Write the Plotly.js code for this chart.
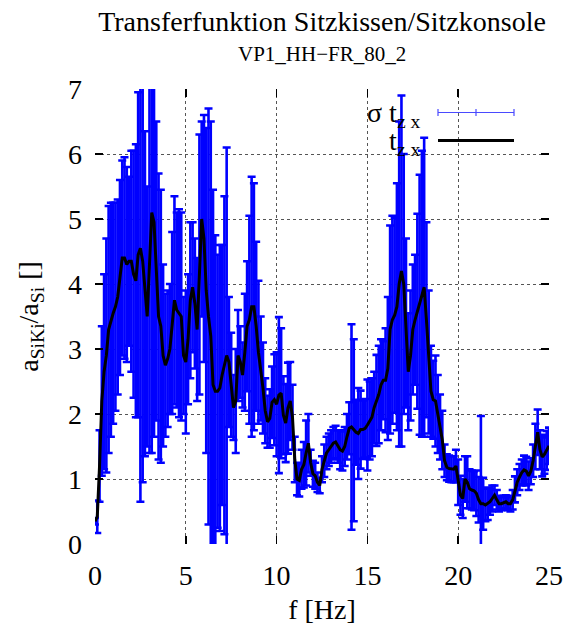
<!DOCTYPE html>
<html>
<head>
<meta charset="utf-8">
<script src="https://cdn.plot.ly/plotly-3.0.1.min.js"></script>
<style>
  html, body { margin: 0; padding: 0; background: #fff; }
  #plot { width: 568px; height: 629px; }
</style>
</head>
<body>
<div id="plot"></div>
<script>
// Frequency axis [Hz]
const freqHz = [
  0, 0.125, 0.25, 0.375, 0.5, 0.625, 0.75, 0.875, 1, 1.125, 1.25, 1.375, 1.5, 1.625, 1.75, 1.875,
  2, 2.125, 2.25, 2.375, 2.5, 2.625, 2.75, 2.875, 3, 3.125, 3.25, 3.375, 3.5, 3.625, 3.75, 3.875,
  4, 4.125, 4.25, 4.375, 4.5, 4.625, 4.75, 4.875, 5, 5.125, 5.25, 5.375, 5.5, 5.625, 5.75, 5.875,
  6, 6.125, 6.25, 6.375, 6.5, 6.625, 6.75, 6.875, 7, 7.125, 7.25, 7.375, 7.5, 7.625, 7.75, 7.875,
  8, 8.125, 8.25, 8.375, 8.5, 8.625, 8.75, 8.875, 9, 9.125, 9.25, 9.375, 9.5, 9.625, 9.75, 9.875,
  10, 10.125, 10.25, 10.375, 10.5, 10.625, 10.75, 10.875, 11, 11.125, 11.25, 11.375, 11.5, 11.625, 11.75, 11.875,
  12, 12.125, 12.25, 12.375, 12.5, 12.625, 12.75, 12.875, 13, 13.125, 13.25, 13.375, 13.5, 13.625, 13.75, 13.875,
  14, 14.125, 14.25, 14.375, 14.5, 14.625, 14.75, 14.875, 15, 15.125, 15.25, 15.375, 15.5, 15.625, 15.75, 15.875,
  16, 16.125, 16.25, 16.375, 16.5, 16.625, 16.75, 16.875, 17, 17.125, 17.25, 17.375, 17.5, 17.625, 17.75, 17.875,
  18, 18.125, 18.25, 18.375, 18.5, 18.625, 18.75, 18.875, 19, 19.125, 19.25, 19.375, 19.5, 19.625, 19.75, 19.875,
  20, 20.125, 20.25, 20.375, 20.5, 20.625, 20.75, 20.875, 21, 21.125, 21.25, 21.375, 21.5, 21.625, 21.75, 21.875,
  22, 22.125, 22.25, 22.375, 22.5, 22.625, 22.75, 22.875, 23, 23.125, 23.25, 23.375, 23.5, 23.625, 23.75, 23.875,
  24, 24.125, 24.25, 24.375, 24.5, 24.625, 24.75, 24.875, 25
];

// Mean transfer function t_zx (seat cushion / seat console)
const tzx = [
  0.35, 0.42, 1.20, 2.20, 2.65, 2.90, 3.30, 3.45, 3.55, 3.65, 3.80, 4.10, 4.40, 4.40, 4.30, 4.35,
  4.35, 4.15, 4.05, 4.45, 4.55, 4.35, 3.85, 3.50, 4.30, 5.10, 4.95, 4.20, 3.50, 3.35, 2.90, 2.75,
  2.85, 3.00, 3.40, 3.75, 3.60, 3.55, 3.50, 2.90, 2.80, 3.15, 3.75, 3.95, 3.70, 3.30, 4.30, 5.00,
  4.70, 3.90, 3.50, 3.20, 2.45, 2.35, 2.35, 2.40, 2.60, 2.75, 2.90, 2.80, 2.45, 2.10, 2.20, 2.90,
  2.80, 2.60, 2.95, 3.35, 3.45, 3.65, 3.65, 3.35, 2.95, 2.70, 2.40, 2.05, 1.88, 1.93, 2.18, 2.22,
  2.15, 2.29, 2.32, 1.98, 1.86, 2.09, 2.20, 1.95, 1.30, 1.00, 0.98, 1.15, 1.22, 1.40, 1.55, 1.25,
  1.08, 1.05, 0.95, 0.90, 1.15, 1.28, 1.40, 1.45, 1.50, 1.55, 1.57, 1.50, 1.45, 1.43, 1.50, 1.65,
  1.78, 1.80, 1.75, 1.72, 1.70, 1.76, 1.76, 1.78, 1.83, 1.90, 1.95, 2.10, 2.21, 2.30, 2.45, 2.52,
  2.52, 2.70, 3.30, 3.45, 3.52, 3.65, 4.00, 4.20, 4.00, 3.40, 2.65, 2.90, 3.30, 3.45, 3.58, 3.68,
  3.85, 3.95, 3.45, 2.80, 2.35, 2.22, 2.20, 2.00, 1.80, 1.60, 1.28, 1.18, 1.16, 1.15, 1.15, 1.20,
  0.95, 0.75, 0.70, 1.00, 0.95, 0.85, 0.83, 0.82, 0.78, 0.68, 0.62, 0.62, 0.60, 0.62, 0.65, 0.70,
  0.75, 0.68, 0.62, 0.62, 0.64, 0.65, 0.62, 0.62, 0.68, 0.84, 0.95, 1.03, 1.10, 1.14, 1.12, 1.05,
  1.12, 1.28, 1.50, 1.72, 1.45, 1.34, 1.38, 1.44, 1.51
];

// Standard deviation sigma of t_zx
const sigmaTzx = [
  0.05, 0.25, 0.55, 1.15, 1.50, 1.80, 1.90, 1.80, 1.70, 1.60, 1.50, 1.50, 1.50, 1.55, 1.50, 1.30,
  1.70, 1.90, 2.10, 2.50, 3.90, 3.40, 2.50, 2.00, 2.90, 3.70, 3.30, 2.30, 2.20, 2.10, 1.40, 1.10,
  1.05, 1.00, 1.40, 1.60, 1.50, 1.60, 1.60, 0.90, 1.10, 1.00, 1.20, 1.00, 1.00, 1.10, 2.00, 1.50,
  1.90, 2.50, 3.20, 3.30, 3.00, 2.40, 2.10, 2.20, 2.00, 2.60, 3.20, 1.00, 0.80, 0.50, 0.80, 0.70,
  0.55, 0.50, 0.90, 1.00, 1.60, 2.00, 1.90, 1.30, 1.10, 0.80, 0.70, 0.50, 0.40, 0.45, 0.55, 0.70,
  0.80, 1.20, 1.00, 0.60, 0.60, 0.70, 0.60, 0.50, 0.35, 0.25, 0.25, 0.30, 0.35, 0.50, 0.45, 0.20,
  0.20, 0.20, 0.15, 0.12, 0.20, 0.25, 0.25, 0.25, 0.25, 0.25, 0.25, 0.25, 0.30, 0.30, 0.30, 0.35,
  0.40, 1.58, 1.40, 0.50, 0.70, 0.60, 0.45, 0.45, 0.70, 0.60, 0.60, 0.55, 0.70, 0.75, 0.70, 0.60,
  0.80, 1.10, 1.60, 1.60, 1.50, 1.90, 2.50, 2.70, 2.00, 1.30, 0.90, 1.00, 1.00, 1.00, 1.50, 2.00,
  2.20, 2.30, 1.50, 1.10, 0.70, 0.60, 0.70, 0.60, 0.50, 0.45, 0.25, 0.20, 0.20, 0.20, 0.20, 0.25,
  0.35, 0.30, 0.30, 0.35, 0.40, 0.30, 0.30, 0.30, 0.35, 0.35, 1.35, 0.40, 0.25, 0.25, 0.20, 0.20,
  0.15, 0.15, 0.12, 0.10, 0.10, 0.10, 0.10, 0.12, 0.15, 0.20, 0.20, 0.20, 0.20, 0.22, 0.22, 0.22,
  0.20, 0.25, 0.35, 0.35, 0.30, 0.30, 0.30, 0.30, 0.28
];

const xTickVals = [0, 5, 10, 15, 20, 25];
const yTickVals = [0, 1, 2, 3, 4, 5, 6, 7];

const serif = 'Liberation Serif, serif';
const blue = '#0000ff';

// plot-area geometry (px) used for converting key decorations to paper units
const W = 568, H = 629;
const M = { l: 95, r: 19, t: 89, b: 85 };
const pw = W - M.l - M.r, ph = H - M.t - M.b;
const px = x => (x - M.l) / pw;
const py = y => (H - M.b - y) / ph;

const txt = size => ({ family: serif, size: size, color: '#000' });

const traces = [
  {
    // sigma t_zx: error bars around the mean
    x: freqHz, y: tzx, type: 'scatter', mode: 'markers',
    marker: { size: 1, color: blue },
    error_y: { type: 'data', array: sigmaTzx, visible: true, color: blue, thickness: 2.6, width: 4 },
    hoverinfo: 'skip', showlegend: false
  },
  {
    // t_zx mean curve
    x: freqHz, y: tzx, type: 'scatter', mode: 'lines',
    line: { color: '#000000', width: 3 },
    hoverinfo: 'skip', showlegend: false
  }
];

const axisCommon = {
  ticks: 'inside', ticklen: 8, tickwidth: 1.5, tickcolor: '#000',
  mirror: 'ticks', showline: false, zeroline: false,
  showgrid: true, gridcolor: '#555', griddash: 'dot', gridwidth: 1,
  tickfont: txt(28),
  ticklabelstandoff: 12, automargin: false
};

// custom key: text on the left, sample on the right
const keyColor = '#4a4aff';
const keyShapes = [
  { type: 'line', xref: 'paper', yref: 'paper', x0: px(438), x1: px(514), y0: py(112.5), y1: py(112.5),
    line: { color: keyColor, width: 1.2 } },
  { type: 'line', xref: 'paper', yref: 'paper', x0: px(438), x1: px(438), y0: py(109), y1: py(116),
    line: { color: keyColor, width: 1.2 } },
  { type: 'line', xref: 'paper', yref: 'paper', x0: px(476), x1: px(476), y0: py(109), y1: py(116),
    line: { color: keyColor, width: 1.2 } },
  { type: 'line', xref: 'paper', yref: 'paper', x0: px(514), x1: px(514), y0: py(109), y1: py(116),
    line: { color: keyColor, width: 1.2 } },
  { type: 'line', xref: 'paper', yref: 'paper', x0: px(438), x1: px(514), y0: py(140.5), y1: py(140.5),
    line: { color: '#000', width: 3 } }
];

const layout = {
  width: W, height: H,
  margin: M,
  paper_bgcolor: '#fff', plot_bgcolor: '#fff',
  font: txt(28),
  title: {
    text: 'Transferfunktion Sitzkissen/Sitzkonsole',
    font: txt(28),
    xref: 'paper', x: 0.5, xanchor: 'center',
    yref: 'container', y: 1 - 21 / H, yanchor: 'middle'
  },
  xaxis: Object.assign({}, axisCommon, {
    range: [0, 25], tickvals: xTickVals,
    title: { text: 'f [Hz]', font: txt(28), standoff: 9 }
  }),
  yaxis: Object.assign({}, axisCommon, {
    range: [0, 7], tickvals: yTickVals,
    title: { text: 'a<sub>SiKi</sub>/a<sub>Si</sub> []', font: txt(28), standoff: 21 }
  }),
  annotations: [
    { text: 'VP1_HH\u2212FR_80_2', xref: 'paper', yref: 'paper', x: 0.5, y: py(54),
      xanchor: 'center', yanchor: 'middle', showarrow: false, font: txt(21) },
    { text: '\u03c3 t<sub>z x</sub>', xref: 'paper', yref: 'paper', x: px(422), y: py(114),
      xanchor: 'right', yanchor: 'middle', showarrow: false, font: txt(28) },
    { text: 't<sub>z x</sub>', xref: 'paper', yref: 'paper', x: px(422), y: py(142),
      xanchor: 'right', yanchor: 'middle', showarrow: false, font: txt(28) }
  ],
  shapes: keyShapes,
  showlegend: false,
  hovermode: false
};

Plotly.newPlot('plot', traces, layout, { staticPlot: true, displayModeBar: false });
</script>
</body>
</html>
